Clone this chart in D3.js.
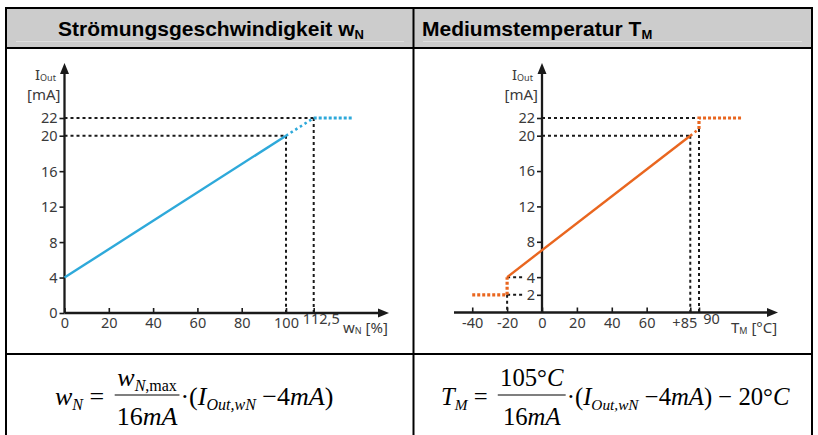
<!DOCTYPE html>
<html><head><meta charset="utf-8">
<script src="https://cdn.jsdelivr.net/npm/d3@7"></script>
<style>
body{margin:0;background:#fff;}
svg{display:block;}
text{white-space:pre;}
</style></head>
<body>
<svg id="c" width="818" height="435"></svg>
<script>
// ---- data ----
const leftYTicks = [0, 4, 8, 12, 16, 20, 22];
const leftXTicks = [0, 20, 40, 60, 80, 100, 112.5];
const leftXLabels = ["0", "20", "40", "60", "80", "100", "112,5"];
const leftSolid = [[0, 4], [100, 20]];
const leftDottedSlope = [[100, 20], [112.5, 22]];
const leftDottedFlat = [[112.5, 22], [130, 22]];
const leftGuides = [
  [[0, 22], [112.5, 22]], [[0, 20], [100, 20]],
  [[100, 20], [100, 0]], [[112.5, 22], [112.5, 0]]
];

const rightYTicks = [2, 4, 8, 12, 16, 20, 22];
const rightXTicks = [-40, -20, 0, 20, 40, 60, 85, 90];
const rightXLabels = ["-40", "-20", "0", "20", "40", "60", "+85", "90"];
const rightSolid = [[-20, 4], [85, 20]];
const rightDottedLow = [[-40, 2], [-20, 2], [-20, 4]];
const rightDottedSlope = [[85, 20], [90, 20.76]];
const rightDottedHigh = [[90, 20.76], [90, 22], [115, 22]];
const rightGuides = [
  [[0, 22], [90, 22]], [[0, 20], [85, 20]],
  [[85, 20], [85, 0]], [[90, 20.76], [90, 0]],
  [[-20, 4], [-10.5, 4]], [[-20, 2], [-10.5, 2]], [[-20, 2], [-20, 0]]
];

const blue = "#2ea9da", orange = "#e9661f";
const tickFont = "'Noto Sans', 'DejaVu Sans', sans-serif";
const svg = d3.select("#c");

// ---- table ----
const T = {l: 6, m: 413.5, r: 812, t: 8, h: 48, row: 354};
svg.append("rect").attr("x", T.l).attr("y", T.t).attr("width", T.r - T.l).attr("height", T.h - T.t).attr("fill", "#cccccc");
svg.append("line").attr("x1", 16).attr("x2", 404).attr("y1", 41.5).attr("y2", 41.5).attr("stroke", "#dedede").attr("stroke-width", 1);
svg.append("line").attr("x1", 423).attr("x2", 802).attr("y1", 41.5).attr("y2", 41.5).attr("stroke", "#dedede").attr("stroke-width", 1);
const tl = (x1, y1, x2, y2) => svg.append("line").attr("x1", x1).attr("y1", y1).attr("x2", x2).attr("y2", y2).attr("stroke", "#000").attr("stroke-width", 2);
tl(T.l - 1, T.t, T.r + 1, T.t); tl(T.l - 1, T.h, T.r + 1, T.h); tl(T.l - 1, T.row, T.r + 1, T.row);
tl(T.l, T.t, T.l, 435); tl(T.m, T.t, T.m, 435); tl(T.r, T.t, T.r, 435);

const hdr = (x, anchor, main, sub) => {
  const t = svg.append("text").attr("x", x).attr("y", 36).attr("text-anchor", anchor)
    .attr("font-family", "'Liberation Sans', Arial, sans-serif").attr("font-weight", "bold").attr("font-size", 21).attr("fill", "#000");
  t.append("tspan").text(main);
  t.append("tspan").attr("font-size", 13).attr("dy", 3).text(sub);
};
hdr(211, "middle", "Strömungsgeschwindigkeit w", "N");
hdr(422, "start", "Mediumstemperatur T", "M");

// ---- chart helper ----
function chart(o) {
  const g = svg.append("g");
  const x = o.x, y = o.y;
  const x0 = x(0), y0 = y(0);
  o.guides.forEach(seg => {
    g.append("path").attr("d", d3.line().x(d => x(d[0])).y(d => y(d[1]))(seg))
      .attr("fill", "none").attr("stroke", "#1a1a1a").attr("stroke-width", 2).attr("stroke-dasharray", "3,3");
  });
  g.append("line").attr("x1", o.xStart).attr("x2", o.xEnd - 8).attr("y1", y0).attr("y2", y0).attr("stroke", "#1a1a1a").attr("stroke-width", 2.3);
  g.append("line").attr("x1", x0).attr("x2", x0).attr("y1", y0).attr("y2", o.yTop + 8).attr("stroke", "#1a1a1a").attr("stroke-width", 2.3);
  g.append("path").attr("d", `M${o.xEnd},${y0} L${o.xEnd - 11},${y0 - 4.5} L${o.xEnd - 11},${y0 + 4.5}Z`).attr("fill", "#1a1a1a");
  g.append("path").attr("d", `M${x0},${o.yTop} L${x0 - 4.5},${o.yTop + 11} L${x0 + 4.5},${o.yTop + 11}Z`).attr("fill", "#1a1a1a");

  const ya = g.append("g").attr("transform", `translate(${x0},0)`)
    .call(d3.axisLeft(y).tickValues(o.yTicks).tickSize(5).tickPadding(2).tickFormat(d3.format("d")));
  ya.select(".domain").remove();
  ya.selectAll("line").attr("stroke", "#1a1a1a").attr("stroke-width", 1.6);
  ya.selectAll("text").attr("font-family", tickFont).attr("font-size", 14.5).attr("fill", "#3a3a3a").attr("dy", "0.34em");

  const xa = g.append("g").attr("transform", `translate(0,${y0})`)
    .call(d3.axisBottom(x).tickValues(o.xTicks).tickSizeInner(-5).tickSizeOuter(0).tickPadding(5)
      .tickFormat((d, i) => o.xLabels[i]));
  xa.select(".domain").remove();
  xa.selectAll("line").attr("stroke", "#1a1a1a").attr("stroke-width", 1.6);
  xa.selectAll("text").attr("font-family", tickFont).attr("font-size", 14.5).attr("fill", "#3a3a3a")
    .attr("dy", (d) => o.raised.includes(d) ? "0.42em" : "0.71em")
    .attr("dx", (d) => o.shift[d] || 0);

  const ylab = g.append("text").attr("x", o.ylabX).attr("y", 80).attr("font-family", tickFont).attr("font-size", 15).attr("fill", "#3a3a3a");
  ylab.append("tspan").text("I");
  ylab.append("tspan").attr("font-size", 9).attr("dy", 1).text("Out");
  g.append("text").attr("x", x0 - 4).attr("y", 100).attr("text-anchor", "end").attr("font-family", tickFont).attr("font-size", 15).attr("fill", "#3a3a3a").text("[mA]");
  const xlab = g.append("text").attr("x", o.xlabX).attr("y", y0 + 20).attr("font-family", tickFont).attr("font-size", 15).attr("fill", "#3a3a3a");
  xlab.append("tspan").text(o.xVar);
  xlab.append("tspan").attr("font-size", 9).attr("dy", 1).text(o.xSub);
  xlab.append("tspan").attr("dy", -1).text(" " + o.xUnit);

  const ln = d3.line().x(d => x(d[0])).y(d => y(d[1]));
  o.dotted.forEach(s => g.append("path").attr("d", ln(s.pts)).attr("fill", "none").attr("stroke", o.color)
    .attr("stroke-width", s.w).attr("stroke-dasharray", s.dash));
  g.append("path").attr("d", ln(o.solid)).attr("fill", "none").attr("stroke", o.color).attr("stroke-width", 2.4);
}

chart({
  x: d3.scaleLinear().domain([0, 112.5]).range([64.5, 313.7]),
  y: d3.scaleLinear().domain([0, 22]).range([313, 118]),
  xStart: 64.5, xEnd: 389, yTop: 63,
  yTicks: leftYTicks, xTicks: leftXTicks, xLabels: leftXLabels,
  raised: [112.5], shift: {112.5: 7},
  guides: leftGuides, color: blue, solid: leftSolid,
  dotted: [{pts: leftDottedSlope, w: 2.6, dash: "2.5,3"}, {pts: leftDottedFlat, w: 3, dash: "3,2"}],
  ylabX: 35, xlabX: 343, xVar: "w", xSub: "N", xUnit: "[%]"
});

chart({
  x: d3.scaleLinear().domain([0, 90]).range([542, 699]),
  y: d3.scaleLinear().domain([0, 22]).range([312.5, 118]),
  xStart: 454, xEnd: 778, yTop: 63,
  yTicks: rightYTicks, xTicks: rightXTicks, xLabels: rightXLabels,
  raised: [90], shift: {85: -6, 90: 12},
  guides: rightGuides, color: orange, solid: rightSolid,
  dotted: [{pts: rightDottedLow, w: 3.2, dash: "3,2"}, {pts: rightDottedSlope, w: 2.6, dash: "2.5,3"}, {pts: rightDottedHigh, w: 3.2, dash: "3,2"}],
  ylabX: 512, xlabX: 731, xVar: "T", xSub: "M", xUnit: "[°C]"
});

// ---- formulas ----
const serif = "'Liberation Serif', 'Times New Roman', serif";
let FS = 25, SS = 15.5;
function txt(x, y, anchor) {
  return svg.append("text").attr("x", x).attr("y", y).attr("text-anchor", anchor || "start")
    .attr("font-family", serif).attr("font-size", FS).attr("fill", "#000");
}
function it(t, s) { return t.append("tspan").attr("font-style", "italic").text(s); }
function up(t, s) { return t.append("tspan").attr("font-style", "normal").text(s); }
function sub(t, s) { return t.append("tspan").attr("font-size", SS).attr("dy", 5).attr("font-style", "italic").text(s); }
function back(t, s) { return t.append("tspan").attr("dy", -5).attr("font-style", "normal").text(s); }
const wid = t => t.node().getBBox().width;

const base = 405, numY = 386, denY = 425, barY = 395;
function formula(x0, lhs, num, den, rhs) {
  let cx = x0;
  const a = txt(cx, base); lhs(a);
  cx += wid(a) + 4;
  const n = txt(0, numY, "middle"); num(n);
  const d = txt(0, denY, "middle"); den(d);
  const fw = Math.max(wid(n), wid(d)) + 4;
  n.attr("x", cx + fw / 2); d.attr("x", cx + fw / 2);
  svg.append("line").attr("x1", cx).attr("x2", cx + fw).attr("y1", barY).attr("y2", barY).attr("stroke", "#000").attr("stroke-width", 1.2);
  cx += fw + 1;
  const r = txt(cx, base); rhs(r);
}

FS = 26; SS = 16;
formula(55,
  t => { it(t, "w"); sub(t, "N"); back(t, " = "); },
  t => { it(t, "w"); sub(t, "N"); t.append("tspan").attr("font-size", SS).attr("font-style", "normal").text(",max"); },
  t => { up(t, "16"); it(t, "mA"); },
  t => { up(t, "·("); it(t, "I"); sub(t, "Out,wN"); back(t, " −4"); it(t, "mA"); up(t, ")"); }
);
FS = 24.7; SS = 15.3;
formula(441,
  t => { it(t, "T"); sub(t, "M"); back(t, " = "); },
  t => { up(t, "105°"); it(t, "C"); },
  t => { up(t, "16"); it(t, "mA"); },
  t => { up(t, "·("); it(t, "I"); sub(t, "Out,wN"); back(t, " −4"); it(t, "mA"); up(t, ") − 20°"); it(t, "C"); }
);
</script>
</body></html>
